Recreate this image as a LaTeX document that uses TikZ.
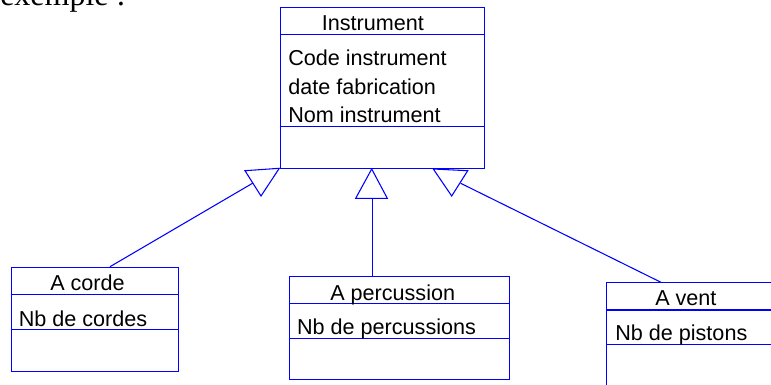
\documentclass[tikz,border=0pt]{standalone}
\usepackage{fontspec}
\setmainfont{Liberation Sans}
\newfontfamily\serifword{Liberation Serif}
\usetikzlibrary{positioning,calc}
\definecolor{umlblue}{RGB}{0,0,255}
\tikzset{
  classbox/.style={draw=umlblue, line width=0.8pt, anchor=north west, inner sep=0pt},
  sepline/.style={draw=umlblue, line width=0.8pt},
  gentri/.style={draw=umlblue, line width=0.8pt, line join=miter},
  link/.style={draw=umlblue, line width=0.8pt},
  txt/.style={anchor=base west, inner sep=0pt, font=\fontsize{16.2}{19}\selectfont},
}

\begin{document}
\begin{tikzpicture}[x=0.75pt, y=-0.75pt]
\useasboundingbox (0,0) rectangle (771,385);

%Heading
\node[anchor=base west, inner sep=0pt, font=\serifword\fontsize{24}{28}\selectfont] (intro) at (0,6) {exemple :};

%Nodes
\node[classbox, minimum width=153.4pt, minimum height=120.8pt] (inst) at (279.5,6.7) {};
\node[classbox, minimum width=125.7pt, minimum height=78pt] (corde) at (10.7,266.7) {};
\node[classbox, minimum width=165.2pt, minimum height=77.7pt] (perc) at (289,275.7) {};
\node[classbox, minimum width=150pt, minimum height=90pt] (vent) at (606,282.3) {};

%Compartments
\draw[sepline] ($(inst.north west)+(0,28)$) -- ($(inst.north east)+(0,28)$);
\draw[sepline] ($(inst.north west)+(0,120)$) -- ($(inst.north east)+(0,120)$);
\draw[sepline] ($(corde.north west)+(0,27.6)$) -- ($(corde.north east)+(0,27.6)$);
\draw[sepline] ($(corde.north west)+(0,62.6)$) -- ($(corde.north east)+(0,62.6)$);
\draw[sepline] ($(perc.north west)+(0,27.6)$) -- ($(perc.north east)+(0,27.6)$);
\draw[sepline] ($(perc.north west)+(0,62.6)$) -- ($(perc.north east)+(0,62.6)$);
\draw[sepline] ($(vent.north west)+(0,27.7)$) -- ($(vent.north east)+(0,27.7)$);
\draw[sepline] ($(vent.north west)+(0,62)$) -- ($(vent.north east)+(0,62)$);

%Texts
\node[txt] (instname) at (321.5,31) {Instrument};
\node[txt] (attcode) at (288,65.7) {Code instrument};
\node[txt] (attdate) at (288,94.8) {date fabrication};
\node[txt] (attnom) at (288,122.7) {Nom instrument};
\node[txt] (cordename) at (50,290) {A corde};
\node[txt] (attcordes) at (18.5,326) {Nb de cordes};
\node[txt] (percname) at (330,300) {A percussion};
\node[txt] (attperc) at (296.8,334) {Nb de percussions};
\node[txt] (ventname) at (655,305) {A vent};
\node[txt] (attpistons) at (615,340.7) {Nb de pistons};

%Triangles
\draw[gentri] (245,170.7) -- (279.3,168.3) -- (261,196) -- cycle;
\draw[gentri] (371.7,169) -- (387.3,198.3) -- (355.7,198.3) -- cycle;
\draw[gentri] (433.3,169) -- (467.7,170.7) -- (451.7,196) -- cycle;
\coordinate (genL) at (253,183);
\coordinate (genM) at (372.8,198.3);
\coordinate (genR) at (460.7,183.3);

%Lines
\draw[link] (corde.north west) ++(99.3,0) -- (genL);
\draw[link] (perc.north west) ++(83.8,0) -- (genM);
\draw[link] (vent.north west) ++(55,0) -- (genR);
\end{tikzpicture}
\end{document}
